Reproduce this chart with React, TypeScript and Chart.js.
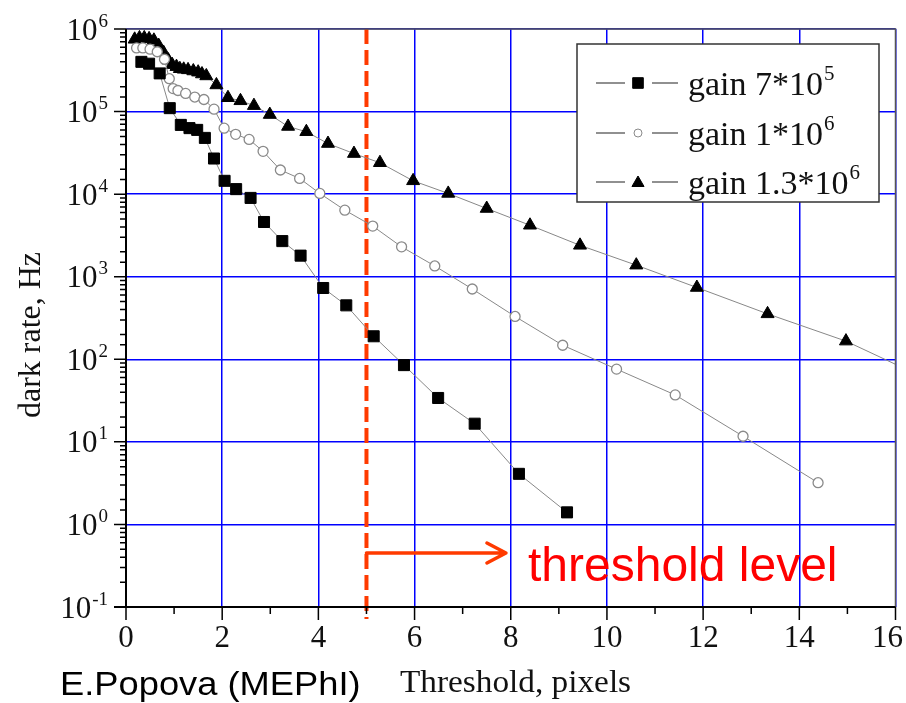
import React, { useEffect, useRef } from "react";
import { Chart, registerables } from "chart.js";

Chart.register(...registerables);

// ---- data ----
const gain7e5X = [0.32, 0.48, 0.7, 0.91, 1.14, 1.32, 1.48, 1.64, 1.83, 2.05, 2.29, 2.59, 2.87, 3.25, 3.63, 4.1, 4.58, 5.15, 5.78, 6.49, 7.25, 8.17, 9.17];
const gain7e5Y = [4.0e5, 3.8e5, 2.9e5, 1.1e5, 6.9e4, 6.3e4, 6.0e4, 4.8e4, 2.7e4, 1.45e4, 1.15e4, 9.0e3, 4.6e3, 2.7e3, 1.8e3, 730, 450, 190, 85, 34, 16.6, 4.1, 1.4];

const gain1e6X = [0.22, 0.35, 0.5, 0.65, 0.8, 0.9, 0.98, 1.08, 1.24, 1.43, 1.62, 1.83, 2.04, 2.28, 2.56, 2.85, 3.21, 3.61, 4.03, 4.55, 5.13, 5.73, 6.42, 7.2, 8.09, 9.08, 10.2, 11.42, 12.83, 14.39];
const gain1e6Y = [5.9e5, 5.9e5, 5.7e5, 5.3e5, 4.3e5, 2.5e5, 1.9e5, 1.8e5, 1.66e5, 1.5e5, 1.4e5, 1.07e5, 6.3e4, 5.3e4, 4.6e4, 3.3e4, 1.96e4, 1.55e4, 1.02e4, 6.4e3, 4.1e3, 2.3e3, 1.35e3, 710, 330, 148, 76, 37, 11.7, 3.2];

const gain13e6X = [0.18, 0.28, 0.38, 0.48, 0.58, 0.68, 0.78, 0.88, 0.96, 1.05, 1.12, 1.2, 1.29, 1.4, 1.5, 1.58, 1.67, 1.88, 2.12, 2.38, 2.66, 2.99, 3.37, 3.75, 4.2, 4.74, 5.28, 5.97, 6.7, 7.5, 8.4, 9.44, 10.61, 11.87, 13.34, 14.97, 16.3];
const gain13e6Y = [7.5e5, 7.8e5, 7.8e5, 7.6e5, 7.3e5, 6.3e5, 5.2e5, 4.2e5, 3.7e5, 3.5e5, 3.3e5, 3.25e5, 3.2e5, 3.1e5, 3.0e5, 2.85e5, 2.7e5, 2.1e5, 1.47e5, 1.35e5, 1.18e5, 9.2e4, 6.6e4, 5.7e4, 4.1e4, 3.1e4, 2.4e4, 1.45e4, 1.02e4, 6.7e3, 4.2e3, 2.4e3, 1.38e3, 740, 355, 166, 72];

const seriesLabels = ["gain 7*10^5", "gain 1*10^6", "gain 1.3*10^6"];
const xTickLabels = ["0", "2", "4", "6", "8", "10", "12", "14", "16"];
const xTitle = "Threshold, pixels";
const yTitle = "dark rate, Hz";
const authorNote = "E.Popova (MEPhI)";
const thresholdText = "threshold level";
const thresholdValue = 5;

const SERIF = '"Liberation Serif", "Times New Roman", serif';
const SANS = '"Liberation Sans", Arial, sans-serif';
const RED = "#ff3a00";

function toPoints(xs: number[], ys: number[]) {
  return xs.map((x, i) => ({ x, y: ys[i] }));
}

function isDecade(v: number) {
  const l = Math.log10(v);
  return Math.abs(l - Math.round(l)) < 1e-6;
}

function drawMarker(ctx: CanvasRenderingContext2D, style: string, x: number, y: number, r: number, fill: string, stroke: string) {
  ctx.save();
  ctx.beginPath();
  if (style === "rect") {
    const s = r * Math.SQRT1_2;
    ctx.rect(x - s, y - s, 2 * s, 2 * s);
  } else if (style === "triangle") {
    const h = (2 * Math.PI) / 3;
    ctx.moveTo(x, y - r);
    ctx.lineTo(x + Math.sin(h) * r, y - Math.cos(h) * r);
    ctx.lineTo(x + Math.sin(2 * h) * r, y - Math.cos(2 * h) * r);
    ctx.closePath();
  } else {
    ctx.arc(x, y, r, 0, Math.PI * 2);
  }
  ctx.fillStyle = fill;
  ctx.fill();
  ctx.strokeStyle = stroke;
  ctx.lineWidth = 1;
  ctx.stroke();
  ctx.restore();
}

// draws "base^exp" text starting at x (left), baseline y
function drawPowText(ctx: CanvasRenderingContext2D, text: string, x: number, y: number, size: number, supSize: number, supRise: number, measureOnly = false) {
  const [base, exp] = text.split("^");
  ctx.font = `${size}px ${SERIF}`;
  const wb = ctx.measureText(base).width;
  let we = 0;
  if (exp !== undefined) {
    ctx.font = `${supSize}px ${SERIF}`;
    we = ctx.measureText(exp).width;
  }
  if (!measureOnly) {
    ctx.font = `${size}px ${SERIF}`;
    ctx.textAlign = "left";
    ctx.textBaseline = "alphabetic";
    ctx.fillText(base, x, y);
    if (exp !== undefined) {
      ctx.font = `${supSize}px ${SERIF}`;
      ctx.fillText(exp, x + wb + 1, y - supRise);
    }
  }
  return wb + 1 + we;
}

function stretchedText(ctx: CanvasRenderingContext2D, text: string, x: number, y: number, font: string, sx: number) {
  ctx.save();
  ctx.translate(x, y);
  ctx.scale(sx, 1);
  ctx.font = font;
  ctx.textAlign = "left";
  ctx.textBaseline = "alphabetic";
  ctx.fillText(text, 0, 0);
  ctx.restore();
}

const overlay = {
  id: "overlay",
  beforeDatasetsDraw(chart: any) {
    const ctx: CanvasRenderingContext2D = chart.ctx;
    const { top, bottom } = chart.chartArea;
    const xs = chart.scales.x;
    const tx = xs.getPixelForValue(thresholdValue);
    ctx.save();
    // dashed threshold line
    ctx.strokeStyle = RED;
    ctx.lineWidth = 4;
    ctx.setLineDash([15, 6]);
    ctx.beginPath();
    ctx.moveTo(tx, top);
    ctx.lineTo(tx, bottom + 12);
    ctx.stroke();
    ctx.setLineDash([]);
    // arrow
    const ay = 553;
    const ax2 = xs.getPixelForValue(7.9);
    ctx.lineWidth = 3.5;
    ctx.lineCap = "round";
    ctx.lineJoin = "round";
    ctx.beginPath();
    ctx.moveTo(tx, ay);
    ctx.lineTo(ax2, ay);
    ctx.moveTo(ax2 - 19, ay - 10);
    ctx.lineTo(ax2, ay);
    ctx.lineTo(ax2 - 19, ay + 10);
    ctx.stroke();
    // label
    ctx.fillStyle = "#ff0000";
    ctx.font = `48px ${SANS}`;
    ctx.textAlign = "left";
    ctx.textBaseline = "alphabetic";
    ctx.fillText(thresholdText, 528, 581);
    ctx.restore();
  },
  afterDatasetsDraw(chart: any) {
    const ctx: CanvasRenderingContext2D = chart.ctx;
    const { left, right, top, bottom } = chart.chartArea;
    const xs = chart.scales.x;
    const ys = chart.scales.y;
    ctx.save();
    // top & right frame
    ctx.strokeStyle = "#555555";
    ctx.lineWidth = 1.5;
    ctx.beginPath();
    ctx.moveTo(left, top);
    ctx.lineTo(right, top);
    ctx.lineTo(right, bottom);
    ctx.stroke();
    // axes
    ctx.strokeStyle = "#000000";
    ctx.lineWidth = 2;
    ctx.beginPath();
    ctx.moveTo(left, top);
    ctx.lineTo(left, bottom);
    ctx.moveTo(left - 12, bottom);
    ctx.lineTo(right, bottom);
    ctx.stroke();
    // y ticks
    ctx.lineWidth = 1.5;
    ctx.beginPath();
    for (const t of ys.ticks) {
      const p = ys.getPixelForValue(t.value);
      const len = isDecade(t.value) ? 12 : 6;
      ctx.moveTo(left - len, p);
      ctx.lineTo(left, p);
    }
    // x ticks
    for (const t of xs.ticks) {
      const p = xs.getPixelForValue(t.value);
      const len = Math.round(t.value) % 2 === 0 ? 13 : 7;
      ctx.moveTo(p, bottom);
      ctx.lineTo(p, bottom + len);
    }
    ctx.stroke();
    // y tick labels
    ctx.fillStyle = "#111111";
    for (const t of ys.ticks) {
      if (!isDecade(t.value)) continue;
      const e = Math.round(Math.log10(t.value));
      const p = ys.getPixelForValue(t.value);
      const label = `10^${e}`;
      const w = drawPowText(ctx, label, 0, 0, 31, 19, 13, true);
      drawPowText(ctx, label, 108 - w, p + 10.5, 31, 19, 13);
    }
    // x tick labels
    ctx.font = `31px ${SERIF}`;
    ctx.textAlign = "left";
    ctx.textBaseline = "alphabetic";
    for (const lab of xTickLabels) {
      const p = xs.getPixelForValue(Number(lab));
      const w = ctx.measureText(lab).width;
      let lx = p - w / 2;
      if (lx + w > 903) lx = 903 - w;
      ctx.fillText(lab, lx, 647);
    }
    // axis titles
    stretchedText(ctx, xTitle, 400, 692, `32px ${SERIF}`, 1.04);
    ctx.save();
    ctx.translate(40, 335);
    ctx.rotate(-Math.PI / 2);
    ctx.font = `32px ${SERIF}`;
    ctx.textAlign = "center";
    ctx.fillText(yTitle, 0, 0);
    ctx.restore();
    // author note
    ctx.fillStyle = "#000000";
    stretchedText(ctx, authorNote, 60, 695, `33px ${SANS}`, 1.1);
    // legend
    const bx = 577, by = 44, bw = 302, bh = 158;
    ctx.fillStyle = "#ffffff";
    ctx.fillRect(bx, by, bw, bh);
    ctx.strokeStyle = "#333333";
    ctx.lineWidth = 1.5;
    ctx.strokeRect(bx, by, bw, bh);
    const rows = [83, 133, 182];
    chart.data.datasets.forEach((ds: any, i: number) => {
      const cy = rows[i];
      ctx.strokeStyle = "#222222";
      ctx.lineWidth = 1.2;
      ctx.beginPath();
      ctx.moveTo(596, cy);
      ctx.lineTo(625, cy);
      ctx.moveTo(652, cy);
      ctx.lineTo(678, cy);
      ctx.stroke();
      const r = ds.pointStyle === "circle" ? 4 : ds.pointStyle === "rect" ? 7.5 : 7;
      drawMarker(ctx, ds.pointStyle, 638, cy + (ds.pointStyle === "triangle" ? 1 : 0), r, ds.pointBackgroundColor, ds.pointBorderColor);
      ctx.fillStyle = "#111111";
      drawPowText(ctx, ds.label, 688, cy + 12, 34, 21, 15);
    });
    ctx.restore();
  },
};

export default function App() {
  const ref = useRef<HTMLCanvasElement | null>(null);
  useEffect(() => {
    if (!ref.current) return;
    const lineColor = "#888888";
    const chart = new Chart(ref.current, {
      type: "line",
      data: {
        datasets: [
          {
            label: seriesLabels[0],
            data: toPoints(gain7e5X, gain7e5Y),
            borderColor: lineColor,
            borderWidth: 1,
            pointStyle: "rect",
            pointRadius: 7.8,
            pointBackgroundColor: "#000000",
            pointBorderColor: "#000000",
            pointBorderWidth: 1,
            clip: 0,
          },
          {
            label: seriesLabels[1],
            data: toPoints(gain1e6X, gain1e6Y),
            borderColor: lineColor,
            borderWidth: 1,
            pointStyle: "circle",
            pointRadius: 5,
            pointBackgroundColor: "#ffffff",
            pointBorderColor: "#8a8a8a",
            pointBorderWidth: 1.3,
            clip: 0,
          },
          {
            label: seriesLabels[2],
            data: toPoints(gain13e6X, gain13e6Y),
            borderColor: lineColor,
            borderWidth: 1,
            pointStyle: "triangle",
            pointRadius: 7.5,
            pointBackgroundColor: "#000000",
            pointBorderColor: "#000000",
            pointBorderWidth: 1,
            clip: 0,
          },
        ],
      } as any,
      options: {
        responsive: false,
        animation: false,
        devicePixelRatio: 1,
        layout: { padding: { left: 126, top: 29, right: 10.5, bottom: 96 } },
        plugins: { legend: { display: false }, tooltip: { enabled: false } },
        elements: { line: { tension: 0 } },
        scales: {
          x: {
            type: "linear",
            min: 0,
            max: 16,
            ticks: { display: false, stepSize: 1 },
            grid: {
              color: (c: any) => (c.tick && Math.round(c.tick.value) % 2 === 0 ? "#0000ff" : "rgba(0,0,0,0)"),
              lineWidth: 1.5,
              drawTicks: false,
            },
            border: { display: false },
          },
          y: {
            type: "logarithmic",
            min: 0.1,
            max: 1e6,
            ticks: { display: false },
            grid: {
              color: (c: any) => (c.tick && isDecade(c.tick.value) ? "#0000ff" : "rgba(0,0,0,0)"),
              lineWidth: 1.5,
              drawTicks: false,
            },
            border: { display: false },
          },
        },
      } as any,
      plugins: [overlay],
    });
    return () => chart.destroy();
  }, []);
  return (
    <div style={{ position: "fixed", left: 0, top: 0, width: 906, height: 703, background: "#ffffff" }}>
      <canvas ref={ref} width={906} height={703} style={{ display: "block", width: 906, height: 703 }} />
    </div>
  );
}
